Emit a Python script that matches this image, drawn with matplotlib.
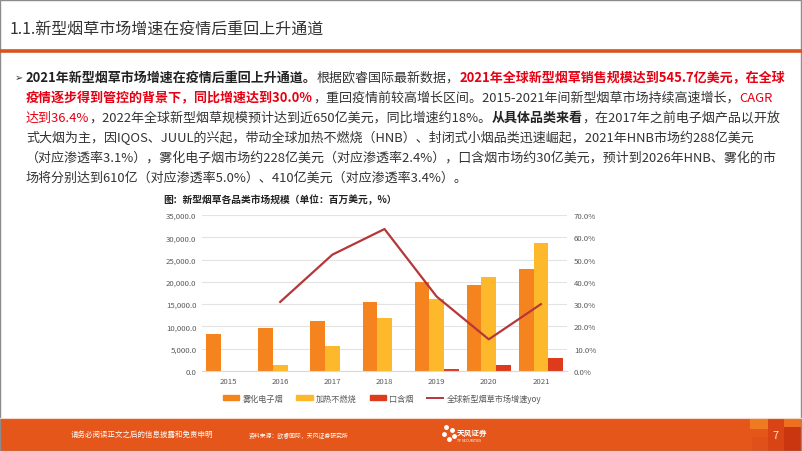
import numpy as np
import matplotlib
matplotlib.use('Agg')
import matplotlib.pyplot as plt
from matplotlib.patches import Rectangle, Patch
from matplotlib.lines import Line2D

plt.rcParams['font.family'] = ['Noto Sans CJK SC', 'DejaVu Sans']

# chart data (百万美元 / %)
years = ['2015', '2016', '2017', '2018', '2019', '2020', '2021']
vape = [8250, 9750, 11200, 15400, 19950, 19350, 22800]
hnb = [100, 1300, 5550, 12000, 16100, 21000, 28800]
oral = [0, 0, 0, 0, 500, 1420, 3000]
yoy = [np.nan, 31.0, 52.2, 63.7, 33.4, 14.2, 30.0]
series_names = ['雾化电子烟', '加热不燃烧', '口含烟', '全球新型烟草市场增速yoy']

title = '1.1.新型烟草市场增速在疫情后重回上升通道'
chart_title = '图：新型烟草各品类市场规模（单位：百万美元，%）'

# body paragraph, one entry per printed line: (text, style)
body_lines = [
    [('2021年新型烟草市场增速在疫情后重回上升通道。', 'b'), ('根据欧睿国际最新数据，', 'n'),
     ('2021年全球新型烟草销售规模达到545.7亿美元，在全球', 'r')],
    [('疫情逐步得到管控的背景下，同比增速达到30.0%', 'r'),
     ('，重回疫情前较高增长区间。2015-2021年间新型烟草市场持续高速增长，', 'n'), ('CAGR', 'rn')],
    [('达到36.4%', 'rn'), ('，2022年全球新型烟草规模预计达到近650亿美元，同比增速约18%。', 'n'),
     ('从具体品类来看', 'b'), ('，在2017年之前电子烟产品以开放', 'n')],
    [('式大烟为主，因IQOS、JUUL的兴起，带动全球加热不燃烧（HNB）、封闭式小烟品类迅速崛起，2021年HNB市场约288亿美元', 'n')],
    [('（对应渗透率3.1%），雾化电子烟市场约228亿美元（对应渗透率2.4%），口含烟市场约30亿美元，预计到2026年HNB、雾化的市', 'n')],
    [('场将分别达到610亿（对应渗透率5.0%）、410亿美元（对应渗透率3.4%）。', 'n')],
]

c_vape = '#F5841F'
c_hnb = '#FDB92B'
c_oral = '#DE3A1C'
c_line = '#B5373A'
c_text = '#333333'
c_red = '#E60012'
c_tick = '#595959'

W, H = 802, 452
fig = plt.figure(figsize=(W / 100, H / 100), dpi=100)


def fx(px):
    return px / W


def fy(py):
    return 1 - py / H


# header
fig.text(fx(10), fy(30), title, fontsize=11.5, color=c_text, va='center', ha='left')
fig.add_artist(Line2D([0, 1], [fy(51.5), fy(51.5)], color='#D9531E', lw=2.6))

# body text, segments placed one after another
renderer = fig.canvas.get_renderer()
fig.text(fx(15), fy(78), '➢', fontsize=7, color=c_text, va='center', ha='left')
styles = {
    'b': dict(color='#222222', fontweight='bold'),
    'n': dict(color=c_text),
    'r': dict(color=c_red, fontweight='bold'),
    'rn': dict(color=c_red),
}
for i, line in enumerate(body_lines):
    x = fx(26)
    y = fy(78 + i * 20)
    for txt, st in line:
        t = fig.text(x, y, txt, fontsize=9.37, va='center', ha='left', **styles[st])
        bb = t.get_window_extent(renderer=renderer)
        x += bb.width / W

# chart
fig.text(fx(163), fy(200), chart_title, fontsize=7, fontweight='bold', color='#222222',
         va='center', ha='left')

ax = fig.add_axes([fx(202), fy(372), fx(567) - fx(202), (372 - 216) / H])
x = np.arange(len(years))
bw = 0.28
ax.bar(x - bw, vape, bw, color=c_vape, zorder=2)
ax.bar(x, hnb, bw, color=c_hnb, zorder=2)
ax.bar(x + bw, oral, bw, color=c_oral, zorder=2)
ax.set_xlim(-0.5, len(years) - 0.5)
ax.set_ylim(0, 35000)
ax.set_yticks(np.arange(0, 35001, 5000))
ax.set_yticklabels([f'{v:,.1f}' for v in np.arange(0, 35001, 5000)])
ax.set_xticks(x)
ax.set_xticklabels(years)
ax.grid(axis='y', color='#E3E3E3', lw=0.8, zorder=0)
ax.set_axisbelow(True)
for s in ['top', 'right', 'left']:
    ax.spines[s].set_visible(False)
ax.spines['bottom'].set_color('#D9D9D9')
ax.tick_params(length=0, labelsize=5.6, colors=c_tick, pad=4)

ax2 = ax.twinx()
ax2.plot(x, yoy, color=c_line, lw=1.6, zorder=3)
ax2.set_ylim(0, 70)
ax2.set_yticks(np.arange(0, 71, 10))
ax2.set_yticklabels([f'{v:.1f}%' for v in np.arange(0, 71, 10)])
for s in ax2.spines.values():
    s.set_visible(False)
ax2.tick_params(length=0, labelsize=5.6, colors=c_tick, pad=5)

handles = [Patch(color=c_vape), Patch(color=c_hnb), Patch(color=c_oral),
           Line2D([], [], color=c_line, lw=1.4)]
leg = fig.legend(handles, series_names, loc='center', bbox_to_anchor=(fx(382), fy(399)),
                 ncol=4, frameon=False, fontsize=5.9, handlelength=2.0, handleheight=0.5,
                 columnspacing=1.6, handletextpad=0.4)
for t in leg.get_texts():
    t.set_color(c_tick)

# footer band
fig.add_artist(Line2D([0, 1], [fy(418.5), fy(418.5)], color='#F6D9C8', lw=0.8))
fig.add_artist(Rectangle((0, 0), 1, fy(420), color='#E5561B', lw=0))
for px, py, pw, ph, c in [(750, 420, 18, 10, '#F07A22'), (768, 420, 16, 32, '#D94414'),
                          (784, 428, 18, 24, '#C9360F'), (752, 438, 16, 14, '#E0501A'),
                          (784, 420, 18, 8, '#EE7020')]:
    fig.add_artist(Rectangle((fx(px), fy(py + ph)), fx(pw), ph / H, color=c, lw=0))
fig.text(fx(142), fy(435), '请务必阅读正文之后的信息披露和免责申明', fontsize=5.4, color='white',
         va='center', ha='center')
fig.text(fx(299), fy(436), '资料来源：欧睿国际，天风证券研究所', fontsize=4.2, color='white',
         va='center', ha='center')
fig.text(fx(457), fy(433), '天风证券', fontsize=5.5, fontweight='bold', color='white',
         va='center', ha='left')
fig.text(fx(457), fy(441), 'TF SECURITIES', fontsize=2.5, color='white', va='center', ha='left')
for dx, dy in [(446, 428), (452, 431), (444, 435), (449, 440), (454, 437)]:
    fig.add_artist(Line2D([fx(dx)], [fy(dy)], marker='o', ms=2.5, color='white', lw=0))
fig.text(fx(776), fy(436), '7', fontsize=8, color='#FCE3CF', va='center', ha='center')

# slide frame
fig.add_artist(Rectangle((0.0005, 0.001), 0.998, 0.997, fill=False, ec='#8C8C8C', lw=1))

fig.savefig('out.png', dpi=100)
